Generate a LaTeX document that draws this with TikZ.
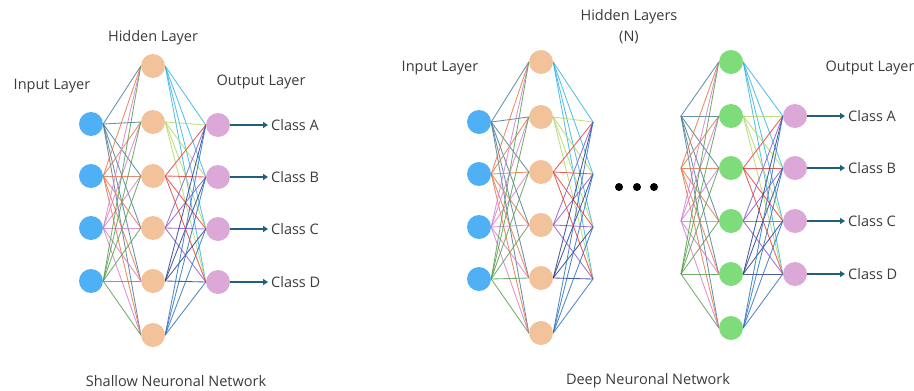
\documentclass[tikz,border=0pt]{standalone}
\usepackage{fontspec}
\setmainfont{Open Sans}
\usetikzlibrary{arrows.meta,backgrounds}
\definecolor{inpc}{HTML}{4FB0F5}
\definecolor{hidc}{HTML}{F2C29A}
\definecolor{outc}{HTML}{DBA8D8}
\definecolor{grnc}{HTML}{7FDC7A}
\definecolor{txtc}{HTML}{3C3C3C}
\definecolor{arrc}{HTML}{1F5F80}
\definecolor{ea}{HTML}{4A7F9A}
\definecolor{eb}{HTML}{E8774A}
\definecolor{ec}{HTML}{D77FD0}
\definecolor{ed}{HTML}{5AA050}
\definecolor{fa}{HTML}{37B4E6}
\definecolor{fb}{HTML}{B5D86A}
\definecolor{fc}{HTML}{E8403A}
\definecolor{fd}{HTML}{8A5BD0}
\definecolor{fe}{HTML}{2D3F8C}
\definecolor{ff}{HTML}{2F74C0}
\begin{document}
\begin{tikzpicture}[x=1pt,y=-1pt,
  neuron/.style={circle,minimum size=24pt,inner sep=0pt,draw=none},
  inp/.style={neuron,fill=inpc},
  hid/.style={neuron,fill=hidc},
  outp/.style={neuron,fill=outc},
  grn/.style={neuron,fill=grnc},
  edge/.style={line width=0.85pt,opacity=0.85},
  lbl/.style={font=\fontsize{14.5}{17}\selectfont,text=txtc,inner sep=0pt},
  cls/.style={font=\fontsize{14.5}{17}\selectfont,text=txtc,inner sep=3pt,anchor=west},
  outarrow/.style={line width=1.6pt,draw=arrc,-{Triangle[length=5pt,width=6pt]}},
  dot/.style={circle,fill=black,minimum size=8pt,inner sep=0pt}]
\useasboundingbox (0,0) rectangle (914,391);

% ---------------- Shallow network ----------------
\foreach \i/\y in {1/124,2/176,3/228,4/281} \node[inp] (LI\i) at (91,\y) {};
\foreach \j/\y in {1/66,2/122,3/176,4/228,5/281,6/335} \node[hid] (LH\j) at (153,\y) {};
\foreach \k/\y in {1/125,2/177,3/229,4/282} \node[outp] (LO\k) at (218,\y) {};

% ---------------- Deep network ----------------
\foreach \i/\y in {1/122,2/174,3/227,4/279} \node[inp] (RI\i) at (479,\y) {};
\foreach \j/\y in {1/62,2/117,3/172,4/225,5/278,6/333} \node[hid] (RH\j) at (541,\y) {};
\foreach \i/\y in {1/122,2/174,3/227,4/279} \coordinate (P\i) at (593,\y);
\foreach \i/\y in {1/116,2/168,3/221,4/274} \coordinate (Q\i) at (681,\y);
\foreach \j/\y in {1/62,2/116,3/168,4/221,5/274,6/328} \node[grn] (RG\j) at (731,\y) {};
\foreach \k/\y in {1/116,2/168,3/221,4/274} \node[outp] (RO\k) at (795,\y) {};

\begin{pgfonlayer}{background}
\fill[white] (0,0) rectangle (914,391);
\foreach \i/\c in {1/ea,2/eb,3/ec,4/ed}
  \foreach \j in {1,...,6}
    \draw[edge,color=\c] (LI\i.east) -- (LH\j.west);
\foreach \j/\c in {1/fa,2/fb,3/fc,4/fd,5/fe,6/ff}
  \foreach \k in {1,...,4}
    \draw[edge,color=\c] (LH\j.east) -- (LO\k.west);
\foreach \i/\c in {1/ea,2/eb,3/ec,4/ed}
  \foreach \j in {1,...,6}
    \draw[edge,color=\c] (RI\i.east) -- (RH\j.west);
\foreach \j/\c in {1/fa,2/fb,3/fc,4/fd,5/fe,6/ff}
  \foreach \k in {1,...,4}
    \draw[edge,color=\c] (RH\j.east) -- (P\k);
\foreach \i/\c in {1/ea,2/eb,3/ec,4/ed}
  \foreach \j in {1,...,6}
    \draw[edge,color=\c] (Q\i) -- (RG\j.west);
\foreach \j/\c in {1/fa,2/fb,3/fc,4/fd,5/fe,6/ff}
  \foreach \k in {1,...,4}
    \draw[edge,color=\c] (RG\j.east) -- (RO\k.west);
\end{pgfonlayer}

\foreach \k/\y/\t in {1/125/A,2/177/B,3/229/C,4/282/D} {
  \node[cls] (LC\k) at (268,\y) {Class \t};
  \draw[outarrow] (LO\k) -- (LC\k);
}
\node[lbl] (lhid) at (153,38) {Hidden Layer};
\node[lbl] (linp) at (52,86) {Input Layer};
\node[lbl] (lout) at (261,82) {Output Layer};
\node[lbl] (ltit) at (176,381) {Shallow Neuronal Network};

\node[dot] (d1) at (619,187) {};
\node[dot] (d2) at (637,187) {};
\node[dot] (d3) at (654,187) {};
\foreach \k/\y/\t in {1/116/A,2/168/B,3/221/C,4/274/D} {
  \node[cls] (RC\k) at (845,\y) {Class \t};
  \draw[outarrow] (RO\k) -- (RC\k);
}
\node[lbl] (rhid) at (629,17) {Hidden Layers};
\node[lbl] (rn) at (629,37) {(N)};
\node[lbl] (rinp) at (440,68) {Input Layer};
\node[lbl] (rout) at (870,68) {Output Layer};
\node[lbl] (rtit) at (648,381) {Deep Neuronal Network};
\end{tikzpicture}
\end{document}
